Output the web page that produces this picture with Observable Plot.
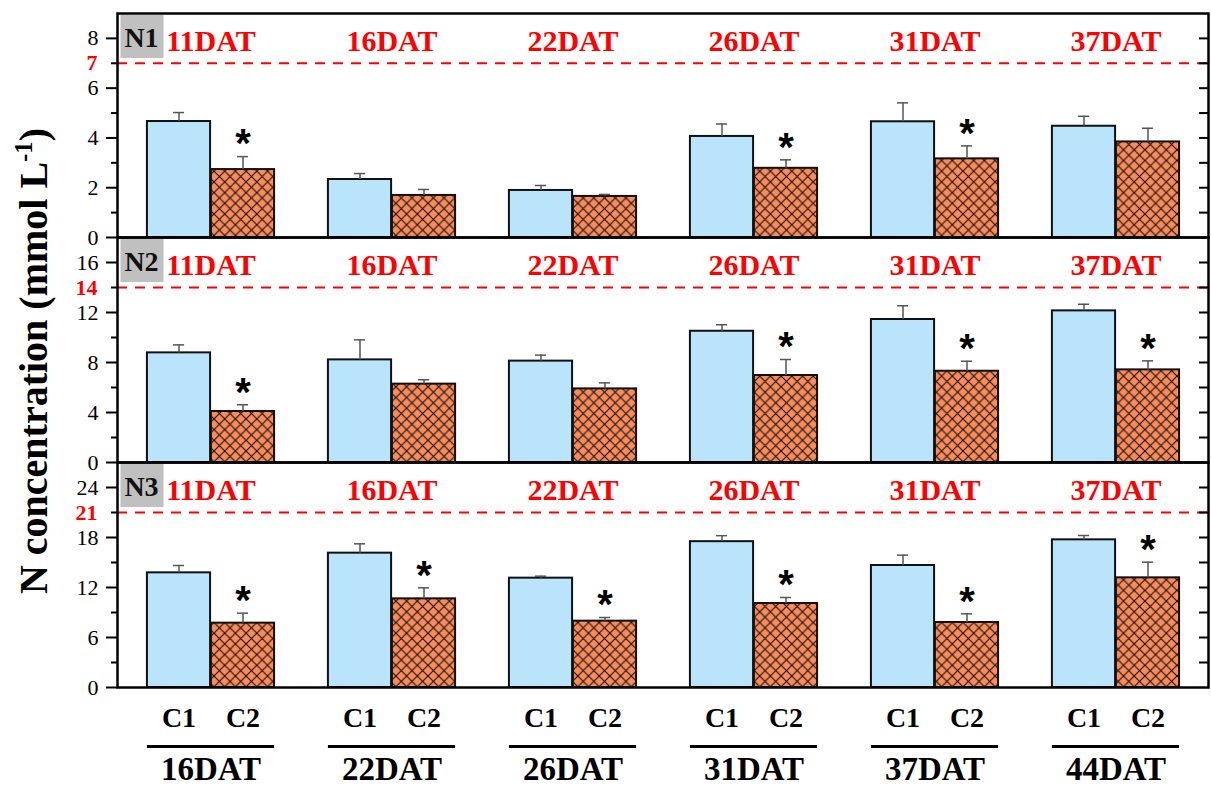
<!DOCTYPE html>
<html><head><meta charset="utf-8">
<script src="https://cdn.jsdelivr.net/npm/d3@7"></script>
<script src="https://cdn.jsdelivr.net/npm/@observablehq/plot@0.6"></script>
<style>
body{margin:0;background:#fff;}
#chart{position:relative;width:1211px;height:787px;overflow:hidden;font-family:"Liberation Serif",serif;}
#chart svg{position:absolute;left:0;background:transparent !important;overflow:visible !important;}
#ytitle{position:absolute;left:34px;top:361px;transform:translate(-50%,-50%) rotate(-90deg);white-space:nowrap;font:bold 40px "Liberation Serif",serif;line-height:1;}
#ytitle sup{font-size:0.62em;vertical-align:0.62em;line-height:0;}
</style></head>
<body>
<svg width="0" height="0" style="position:absolute"><defs>
<pattern id="hatch" patternUnits="userSpaceOnUse" width="10.7" height="10.7">
<rect width="10.7" height="10.7" fill="#fa8c5c"/>
<path d="M-1,-1L11.7,11.7M11.7,-1L-1,11.7" stroke="#111" stroke-width="1.1"/>
</pattern></defs></svg>
<div id="chart"><div id="ytitle">N concentration (mmol L<sup>-1</sup>)</div></div>
<script>
// ---- data ----
const bottomDates = ["16DAT","22DAT","26DAT","31DAT","37DAT","44DAT"];
const topDates    = ["11DAT","16DAT","22DAT","26DAT","31DAT","37DAT"];
const treatments  = ["C1","C2"];
const panelNames  = ["N1","N2","N3"];
const thresholds  = [7, 14, 21];
const yMax        = [9, 18, 27];
const majorTicks  = [[0,2,4,6,8],[0,4,8,12,16],[0,6,12,18,24]];
const minorTicks  = [[1,3,5,7],[2,6,10,14],[3,9,15,21]];
const rightTicks  = [[1,2,3,4,5,6,7,8],[2,4,6,8,10,12,14,16],[3,6,9,12,15,18,21,24]];

const c1Mean = [[4.66,2.33,1.89,4.06,4.65,4.47],[8.77,8.21,8.11,10.5,11.44,12.13],[13.76,16.12,13.12,17.5,14.64,17.72]];
const c1Err  = [[0.36,0.24,0.20,0.50,0.76,0.40],[0.64,1.60,0.48,0.52,1.10,0.53],[0.88,1.12,0.24,0.72,1.24,0.52]];
const c2Mean = [[2.73,1.69,1.65,2.78,3.16,3.84],[4.08,6.27,5.89,6.96,7.30,7.41],[7.72,10.64,7.96,10.08,7.80,13.16]];
const c2Err  = [[0.52,0.24,0.08,0.34,0.52,0.55],[0.54,0.35,0.48,1.28,0.80,0.72],[1.20,1.32,0.44,0.72,1.04,1.88]];
const c2Star = [[true,false,false,true,true,false],[true,false,false,true,true,true],[true,true,true,true,true,true]];

// ---- layout ----
const W = 1211, ML = 117, MR = 3;
const band = (W - ML - MR) / bottomDates.length;
const barW = 64, off = 32;
const serif = "Liberation Serif";
const tops = [0, 237, 462];

function panel(p) {
  const isFirst = p === 0, isLast = p === 2;
  const c1 = bottomDates.map((d, i) => ({date: d, treat: treatments[0], v: c1Mean[p][i], e: c1Err[p][i]}));
  const c2 = bottomDates.map((d, i) => ({date: d, treat: treatments[1], v: c2Mean[p][i], e: c2Err[p][i], star: c2Star[p][i]}));
  const marginTop = isFirst ? 13 : 0;
  const marginBottom = isLast ? 100 : 0;
  const height = 225 + marginTop + marginBottom - (isFirst ? 1 : 0);
  const errStyle = {stroke: "#555", strokeWidth: 1.5};
  const marks = [
    Plot.ruleY([thresholds[p]], {stroke: "#ff0000", strokeWidth: 2, strokeDasharray: "10,8"}),
    Plot.barY(c1, {x: "date", y: "v", fill: "#b9e4fb", stroke: "#111", strokeWidth: 2, insetLeft: band/2 - barW, insetRight: band/2}),
    Plot.barY(c2, {x: "date", y: "v", fill: "url(#hatch)", stroke: "#111", strokeWidth: 2, insetLeft: band/2, insetRight: band/2 - barW}),
    Plot.ruleX(c1, {x: "date", y1: "v", y2: d => d.v + d.e, dx: -off, ...errStyle}),
    Plot.ruleX(c2, {x: "date", y1: "v", y2: d => d.v + d.e, dx: off, ...errStyle}),
    Plot.tickY(c1, {x: "date", y: d => d.v + d.e, dx: -off, insetLeft: band/2 - 6, insetRight: band/2 - 6, ...errStyle}),
    Plot.tickY(c2, {x: "date", y: d => d.v + d.e, dx: off, insetLeft: band/2 - 6, insetRight: band/2 - 6, ...errStyle}),
    Plot.text(c2.filter(d => d.star), {x: "date", y: d => d.v + d.e, text: () => "*", dx: off, dy: -12, fontSize: 40, fontWeight: "bold", fontFamily: "Liberation Sans", lineAnchor: "middle", fill: "#000"}),
    Plot.text(bottomDates.map((d, i) => ({date: d, label: topDates[i]})), {x: "date", text: "label", frameAnchor: "top", dy: 28, lineAnchor: "middle", fill: "#ff0000", fontWeight: "bold", fontSize: 30, fontFamily: serif}),
    Plot.dot([panelNames[p]], {frameAnchor: "top-left", dx: 24.5, dy: 23, symbol: "square", r: 24.3, fill: "#c0c0c0"}),
    Plot.text([panelNames[p]], {frameAnchor: "top-left", text: d => d, dx: 24, dy: 25, lineAnchor: "middle", textAnchor: "middle", fontSize: 28, fontWeight: "bold", fontFamily: serif, fill: "#111"}),
    Plot.axisY(majorTicks[p], {anchor: "left", tickSize: 11, tickPadding: 8, fontSize: 22, fontFamily: serif, strokeWidth: 2, label: null}),
    Plot.axisY(minorTicks[p], {anchor: "left", tickSize: 6, tickFormat: () => "", strokeWidth: 2, label: null}),
    Plot.axisY([thresholds[p]], {anchor: "left", tickSize: 0, tickPadding: 20, tickFormat: d => String(d), fontSize: 22, fontWeight: "bold", fontFamily: serif, color: "#ff0000", label: null}),
    Plot.axisY(rightTicks[p], {anchor: "right", tickSize: -10, tickFormat: () => "", strokeWidth: 2, label: null}),
    Plot.frame({stroke: "#000", strokeWidth: 2.5})
  ];
  if (isLast) {
    marks.push(
      Plot.text(c1, {x: "date", text: "treat", frameAnchor: "bottom", dx: -off, dy: 31, lineAnchor: "middle", fontSize: 28, fontWeight: "bold", fontFamily: serif, fill: "#000"}),
      Plot.text(c2, {x: "date", text: "treat", frameAnchor: "bottom", dx: off, dy: 31, lineAnchor: "middle", fontSize: 28, fontWeight: "bold", fontFamily: serif, fill: "#000"}),
      Plot.tickY(bottomDates, {x: d => d, y: () => 0, dy: 59, insetLeft: band/2 - barW, insetRight: band/2 - barW, stroke: "#000", strokeWidth: 3}),
      Plot.text(bottomDates, {x: d => d, text: d => d, frameAnchor: "bottom", dy: 82, lineAnchor: "middle", fontSize: 33, fontWeight: "bold", fontFamily: serif, fill: "#000"})
    );
  }
  const svg = Plot.plot({
    width: W, height,
    marginLeft: ML, marginRight: MR, marginTop, marginBottom,
    style: {fontFamily: serif, fontSize: "22px", color: "#000", background: "transparent", overflow: "visible"},
    x: {type: "band", domain: bottomDates, padding: 0, axis: null, label: null},
    y: {domain: [0, yMax[p]], axis: null, label: null},
    marks
  });
  svg.style.top = tops[p] + "px";
  return svg;
}

const chart = document.getElementById("chart");
[0, 1, 2].forEach(p => chart.appendChild(panel(p)));
</script>
</body></html>
